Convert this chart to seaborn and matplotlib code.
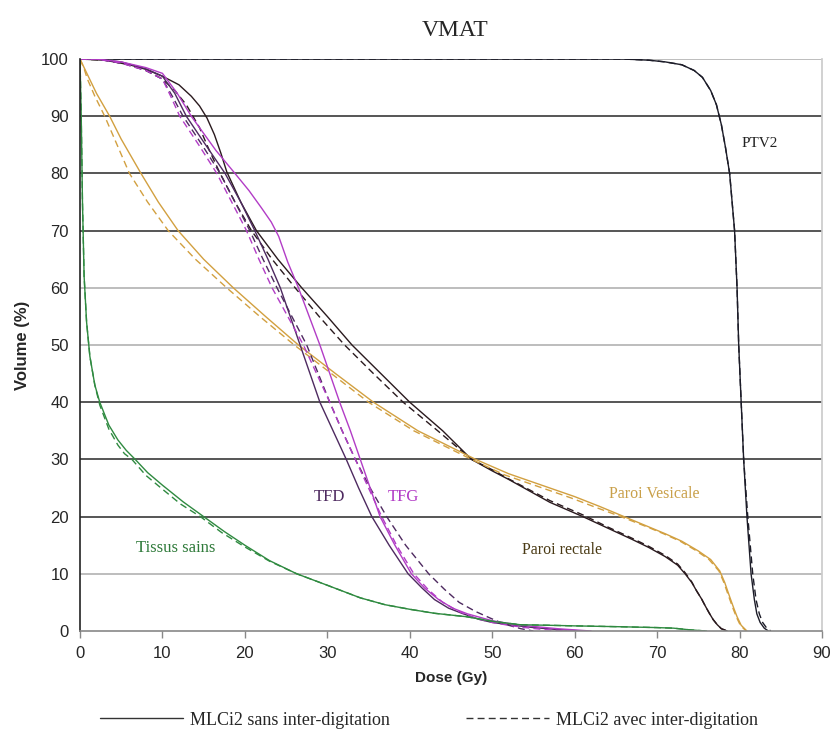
import matplotlib
matplotlib.use("Agg")
import matplotlib.pyplot as plt
from matplotlib.lines import Line2D
import seaborn as sns
import pandas as pd

# ---------------- data ----------------
ptv_sans_d = [0, 60, 66, 69, 71, 73, 74.5, 75.5, 76.5, 77.2, 77.8, 78.3, 78.8, 79.4, 79.7, 79.9, 80.2, 80.5, 80.9, 81.4, 81.8, 82.1, 82.5, 83.0, 83.5]
ptv_sans_v = [100, 100, 100, 99.8, 99.5, 99, 98, 96.8, 94.5, 92, 88.5, 84.5, 80, 70, 60, 50, 40, 30, 20, 10, 5.5, 3, 1.5, 0.5, 0]
ptv_avec_d = [0, 60, 66, 69, 71, 73, 74.5, 75.5, 76.5, 77.2, 77.8, 78.3, 78.8, 79.4, 79.7, 79.9, 80.2, 80.5, 81.0, 81.6, 82.0, 82.4, 82.8, 83.3, 83.8]
ptv_avec_v = [100, 100, 100, 99.8, 99.5, 99, 98, 96.8, 94.5, 92, 88.5, 84.5, 80, 70, 60, 50, 40, 30, 20, 10, 5.5, 3, 1.5, 0.5, 0]

rect_sans_d = [0, 3, 6, 8, 10, 12, 13.5, 14.5, 15.4, 16.3, 17.1, 17.8, 19.5, 21.4, 24, 26.9, 30, 33, 36.5, 40, 44, 47.5, 50, 52, 57, 61, 64, 67, 69, 71, 72.5, 73.4, 74.2, 74.8, 75.4, 75.8, 76.3, 76.8, 77.3, 77.8, 78.5]
rect_sans_v = [100, 99.8, 99, 98.2, 97, 95.5, 93.5, 91.8, 89.7, 86.8, 83.5, 80.3, 75, 70, 65, 60, 55, 50, 45, 40, 35, 30, 28, 26.5, 22.5, 20, 18, 16, 14.6, 13, 11.5, 10, 8.5, 7, 5.6, 4.5, 3.2, 2, 1.1, 0.4, 0]
rect_avec_d = [0, 3, 6, 8, 10, 11.5, 12.9, 14.5, 15.7, 17, 18.8, 20.8, 23.3, 26.1, 29, 32.1, 35.6, 39.2, 43.4, 47.5, 50, 52, 57, 61, 64, 67, 69, 71, 72.5, 73.4, 74.2, 74.8, 75.4, 75.8, 76.3, 76.8, 77.3, 77.8, 78.6]
rect_avec_v = [100, 99.8, 99, 98, 96.5, 94.5, 92, 88, 84, 80, 75, 70, 65, 60, 55, 50, 45, 40, 35, 30, 28.2, 26.6, 22.8, 20.3, 18.2, 16.2, 14.8, 13.2, 11.7, 10.2, 8.6, 7, 5.6, 4.5, 3.2, 2, 1.1, 0.4, 0]

vesi_sans_d = [0, 0.5, 1, 2, 3.6, 5, 7.4, 9.5, 11.9, 15, 18.6, 22.5, 26.5, 31, 35.6, 41, 48, 52, 56, 60, 63, 66, 69, 71, 73, 75, 76.5, 77.6, 78.2, 78.8, 79.3, 79.7, 80.2, 80.9]
vesi_sans_v = [100, 98.5, 97, 94, 90, 86, 80, 75, 70, 65, 60, 55, 50, 45, 40, 35, 30, 27.5, 25.5, 23.5, 21.8, 20, 18.2, 17, 15.7, 14, 12.5, 10.5, 8.5, 6, 4, 2.5, 1, 0]
vesi_avec_d = [0, 0.5, 0.9, 1.8, 3.0, 4.2, 6.0, 8.2, 10.7, 14, 17.8, 21.8, 26, 30.5, 35, 40.5, 47.5, 51.5, 55.5, 59.5, 62.6, 65.6, 68.8, 70.8, 72.8, 74.8, 76.3, 77.5, 78.1, 78.7, 79.2, 79.6, 80.1, 80.8]
vesi_avec_v = [100, 98.3, 96.5, 93.5, 90, 86, 80, 75, 70, 65, 60, 55, 50, 45, 40, 35, 30, 27.3, 25.3, 23.3, 21.6, 20, 18.2, 17, 15.7, 14, 12.5, 10.5, 8.5, 6, 4, 2.5, 1, 0]

tfd_sans_d = [0, 2, 5, 8, 10, 11.5, 12.9, 15, 17.6, 19.5, 21.2, 22.8, 24.3, 25.5, 26.7, 27.9, 29.1, 30.7, 32.3, 33.8, 35.4, 37.5, 39.8, 41.5, 43, 44.7, 46.5, 48.5, 50, 52.5, 55, 58, 61]
tfd_sans_v = [100, 100, 99.5, 98.3, 97, 94, 90, 85.5, 80, 75, 70, 65, 60, 55, 50, 45, 40, 35, 30, 25, 20, 15, 10, 7.5, 5.5, 4, 3, 2, 1.5, 1, 0.6, 0.25, 0]
tfd_avec_d = [0, 2, 5, 8, 10, 11.2, 12.5, 14.8, 17, 18.8, 20.6, 22.2, 23.9, 25.7, 27.5, 28.9, 30.3, 31.8, 33.4, 35.2, 37.2, 39.5, 42.3, 44.2, 46, 48, 49.7, 51, 52, 53.5, 55]
tfd_avec_v = [100, 100, 99.3, 98, 96.5, 93.5, 90, 85, 80, 75, 70, 65, 60, 55, 50, 45, 40, 35, 30, 25, 20, 15, 10, 7.3, 5, 3.4, 2.3, 1.5, 1, 0.4, 0]

tfg_sans_d = [0, 2, 5, 8, 10, 11.8, 13.5, 15, 16.5, 18.8, 20.5, 22, 23.2, 24.1, 25.2, 26.5, 27.8, 29.1, 30.3, 31.5, 32.8, 34, 35.2, 36.4, 38.2, 40.2, 41.8, 43.5, 45.2, 47, 50, 52.5, 55, 58, 60, 62]
tfg_sans_v = [100, 100, 99.5, 98.5, 97.5, 94, 90, 87, 84, 80, 77, 74, 71.5, 69, 64.5, 60, 55, 50, 45, 40, 35, 30, 25, 20, 15, 10, 7.5, 5.5, 4, 3, 1.8, 1.2, 0.8, 0.4, 0.2, 0]
tfg_avec_d = [0, 2, 5, 8, 10, 11, 12.1, 14.4, 16.6, 18.4, 20.2, 21.7, 23.3, 25.2, 27.1, 28.7, 30.3, 31.8, 33.4, 35, 36.6, 38.4, 40.5, 42.2, 44, 46, 48, 50, 52, 54, 56, 58, 60]
tfg_avec_v = [100, 100, 99.3, 98, 96.5, 93.5, 90, 85, 80, 75, 70, 65, 60, 55, 50, 45, 40, 35, 30, 25, 20, 15, 10, 7.3, 5, 3.4, 2.2, 1.5, 1, 0.6, 0.3, 0.1, 0]

tis_sans_d = [0, 0.15, 0.3, 0.5, 0.8, 1.2, 1.8, 2.4, 3.5, 4.6, 5.6, 6.7, 8.2, 10, 12.5, 15, 17.5, 20, 23, 26.3, 30, 34, 37, 40, 43, 46.9, 50, 53.4, 57, 60, 65.5, 70, 72, 74, 76]
tis_sans_v = [100, 90, 75, 62, 54, 48, 43, 40, 36, 33.4, 31.6, 30, 27.7, 25.5, 22.6, 20, 17.4, 15, 12.3, 10, 8, 5.8, 4.6, 3.8, 3.1, 2.5, 1.7, 1.1, 1.0, 0.9, 0.75, 0.6, 0.5, 0.2, 0]
tis_avec_d = [0, 0.15, 0.3, 0.5, 0.8, 1.2, 1.8, 2.4, 3.5, 4.6, 5.4, 6.3, 8.0, 10, 12.2, 14.6, 17.2, 20, 23, 26.3, 30, 34, 37, 40, 43, 46.9, 50, 53.4, 57, 60, 65.5, 70, 72, 74, 76]
tis_avec_v = [100, 90, 75, 62, 54, 48, 43, 39.5, 35.3, 32.5, 31, 30, 27.2, 24.8, 22.2, 20, 17.2, 14.7, 12.2, 10, 8, 5.8, 4.6, 3.8, 3.1, 2.5, 1.7, 1.1, 1.0, 0.9, 0.75, 0.6, 0.5, 0.2, 0]

x_ticks = [0, 10, 20, 30, 40, 50, 60, 70, 80, 90]
y_ticks = [0, 10, 20, 30, 40, 50, 60, 70, 80, 90, 100]
dark_grid = [20, 30, 40, 70, 80, 90]
light_grid = [10, 50, 60, 100]

curves = {
    ("PTV2", "sans"): (ptv_sans_d, ptv_sans_v),
    ("PTV2", "avec"): (ptv_avec_d, ptv_avec_v),
    ("Paroi rectale", "sans"): (rect_sans_d, rect_sans_v),
    ("Paroi rectale", "avec"): (rect_avec_d, rect_avec_v),
    ("Paroi Vesicale", "sans"): (vesi_sans_d, vesi_sans_v),
    ("Paroi Vesicale", "avec"): (vesi_avec_d, vesi_avec_v),
    ("TFD", "sans"): (tfd_sans_d, tfd_sans_v),
    ("TFD", "avec"): (tfd_avec_d, tfd_avec_v),
    ("TFG", "sans"): (tfg_sans_d, tfg_sans_v),
    ("TFG", "avec"): (tfg_avec_d, tfg_avec_v),
    ("Tissus sains", "sans"): (tis_sans_d, tis_sans_v),
    ("Tissus sains", "avec"): (tis_avec_d, tis_avec_v),
}

rows = []
for (organ, variant), (d, v) in curves.items():
    for di, vi in zip(d, v):
        rows.append({"organ": organ, "variant": variant, "dose": di, "volume": vi})
df = pd.DataFrame(rows)

palette = {
    "PTV2": "#1c1c28",
    "Paroi rectale": "#2a1a1e",
    "Paroi Vesicale": "#d2a040",
    "TFD": "#4e2a60",
    "TFG": "#b23cc6",
    "Tissus sains": "#2f8a40",
}

# ---------------- figure ----------------
sns.set_theme(style="white")
plt.rcParams["font.family"] = ["Liberation Sans", "DejaVu Sans"]

fig = plt.figure(figsize=(8.35, 7.29), dpi=100)
ax = fig.add_axes([0.0958, 0.1344, 0.8886, 0.7846])

for g in dark_grid:
    ax.axhline(g, color="#555555", lw=1.4, zorder=0)
for g in light_grid:
    ax.axhline(g, color="#bdbdbd", lw=1.4, zorder=0)

sns.lineplot(data=df, x="dose", y="volume", hue="organ", style="variant",
             palette=palette, dashes={"sans": "", "avec": (5, 3)},
             estimator=None, sort=False, lw=1.0, legend=False, ax=ax)

ax.set_xlim(0, 90)
ax.set_ylim(0, 100)
ax.set_xticks(x_ticks)
ax.set_yticks(y_ticks)
ax.tick_params(axis="x", direction="out", length=5, width=1, color="#888888",
               labelsize=12, pad=6, bottom=True)
ax.tick_params(axis="y", length=0, labelsize=12, pad=8)
for lab in ax.get_xticklabels() + ax.get_yticklabels():
    lab.set_family("Liberation Sans")

ax.spines["left"].set_color("#222222")
ax.spines["left"].set_linewidth(1.2)
ax.spines["bottom"].set_color("#888888")
ax.spines["bottom"].set_linewidth(1.2)
ax.spines["right"].set_color("#cccccc")
ax.spines["top"].set_visible(False)

ax.set_xlabel("Dose (Gy)", fontsize=11, fontweight="bold", labelpad=7)
ax.set_ylabel("Volume (%)", fontsize=12, fontweight="bold", labelpad=8)

serif = ["Liberation Serif", "DejaVu Serif"]
fig.text(0.545, 0.958, "VMAT", ha="center", va="center", fontsize=17, family=serif)

ax.text(82.5, 85.3, "PTV2", ha="center", va="center", fontsize=11, family=serif, color="#222222")
ax.text(69.7, 24.0, "Paroi Vesicale", ha="center", va="center", fontsize=11.5, family=serif, color="#c9a04a")
ax.text(58.5, 14.2, "Paroi rectale", ha="center", va="center", fontsize=11.5, family=serif, color="#4a3a14")
ax.text(30.3, 23.4, "TFD", ha="center", va="center", fontsize=12, family=serif, color="#4e2a60")
ax.text(39.2, 23.4, "TFG", ha="center", va="center", fontsize=12, family=serif, color="#b23cc6")
ax.text(11.6, 14.5, "Tissus sains", ha="center", va="center", fontsize=12, family=serif, color="#2f7a3a")

handles = [Line2D([], [], color="#333333", lw=1.0, ls="-"),
           Line2D([], [], color="#333333", lw=1.0, ls=(0, (5, 3)))]
fig.legend(handles, ["MLCi2 sans inter-digitation", "MLCi2 avec inter-digitation"],
           loc="center", bbox_to_anchor=(0.514, 0.012), ncol=2, frameon=False,
           handlelength=4.6, columnspacing=4.2, handletextpad=0.4,
           prop={"family": serif, "size": 13})

fig.savefig("out.png", dpi=100)
